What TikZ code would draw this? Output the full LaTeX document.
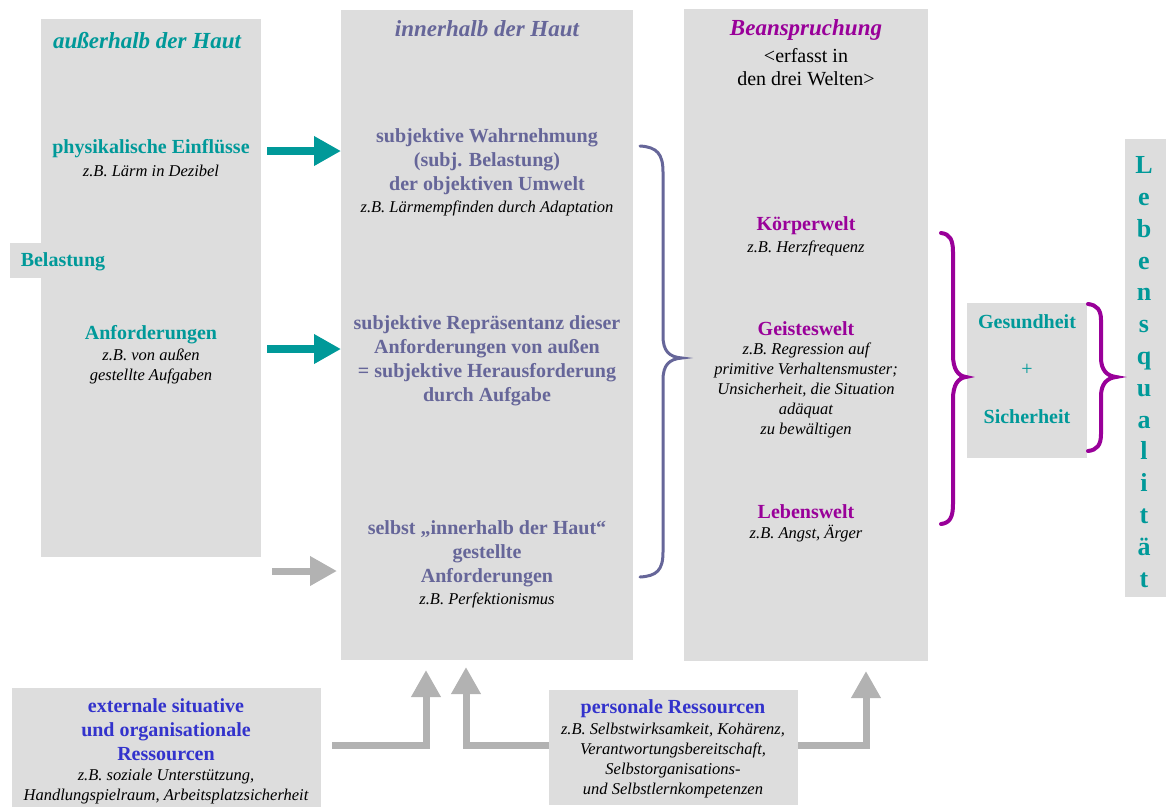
\documentclass[tikz,border=0pt]{standalone}
\usepackage{fontspec}
\setmainfont{Liberation Serif}
\usetikzlibrary{arrows.meta}
\definecolor{boxgray}{HTML}{DDDDDD}
\definecolor{tealc}{HTML}{009999}
\definecolor{slate}{HTML}{666699}
\definecolor{magc}{HTML}{990099}
\definecolor{bluec}{HTML}{3333CC}
\definecolor{arrgray}{HTML}{B2B2B2}
\begin{document}
\begin{tikzpicture}[x=1pt,y=-1pt,
  panel/.style={fill=boxgray,draw=none,inner sep=0pt,outer sep=0pt},
  txt/.style={align=center,inner sep=0pt},
  hd/.style={txt,font=\fontsize{23}{26}\selectfont\bfseries\itshape},
  bt/.style={txt,font=\fontsize{20}{24}\selectfont\bfseries},
  it/.style={txt,font=\fontsize{16.5}{20.5}\selectfont\itshape},
  itt/.style={txt,font=\fontsize{16.5}{20}\selectfont\itshape},
  rt/.style={txt,font=\fontsize{20}{23}\selectfont},
  tealarrow/.style={draw=tealc,line width=8pt,-{Triangle[length=27pt,width=28pt,fill=tealc]}},
  grayarrow/.style={draw=arrgray,line width=7pt,-{Triangle[length=27pt,width=28pt,fill=arrgray]}},
  slatebrace/.style={draw=slate,line width=3pt,line cap=round},
  magbrace/.style={draw=magc,line width=4pt,line cap=round}]
\useasboundingbox (0,0) rectangle (1167,807);

% panels
\node[panel,minimum width=220pt,minimum height=538pt] (outside) at (151,288) {};
\node[panel,minimum width=31pt,minimum height=35pt] (belbox) at (25.5,260.5) {};
\node[panel,minimum width=292pt,minimum height=650pt] (inside) at (487,335) {};
\node[panel,minimum width=244pt,minimum height=652pt] (strain) at (806,335) {};
\node[panel,minimum width=120pt,minimum height=155pt] (health) at (1027,380.5) {};
\node[panel,minimum width=41pt,minimum height=458pt] (lq) at (1145.5,368) {};
\node[panel,minimum width=309pt,minimum height=119pt] (extern) at (166.5,747.5) {};
\node[panel,minimum width=249pt,minimum height=115pt] (personal) at (673.5,747.5) {};

% left column texts
\node[hd,text=tealc] (hdout) at (147,41) {außerhalb der Haut};
\node[bt,text=tealc] (phys) at (151,149) {physikalische Einflüsse};
\node[it] (physex) at (151,171) {z.B. Lärm in Dezibel};
\node[bt,text=tealc] (belastung) at (63,262) {Belastung};
\node[bt,text=tealc] (anf) at (151,335) {Anforderungen};
\node[it] (anfex) at (151,366.5) {z.B. von außen\\gestellte Aufgaben};

% middle column texts
\node[hd,text=slate] (hdin) at (487,29) {innerhalb der Haut};
\node[bt,text=slate] (wahr) at (487,162) {subjektive Wahrnehmung\\(subj. Belastung)\\der objektiven Umwelt};
\node[it] (wahrex) at (487,208) {z.B. Lärmempfinden durch Adaptation};
\node[bt,text=slate] (repr) at (487,361) {subjektive Repräsentanz dieser\\Anforderungen von außen\\= subjektive Herausforderung\\durch Aufgabe};
\node[bt,text=slate] (selbst) at (487,554) {selbst „innerhalb der Haut“\\gestellte\\Anforderungen};
\node[it] (selbstex) at (487,600) {z.B. Perfektionismus};

% right column texts
\node[hd,text=magc] (hdbean) at (806,30) {Beanspruchung};
\node[rt] (erfasst) at (806,67.5) {<erfasst in\\den drei Welten>};
\node[bt,text=magc] (koerper) at (806,226) {Körperwelt};
\node[it] (koerperex) at (806,248) {z.B. Herzfrequenz};
\node[bt,text=magc] (geist) at (806,329) {Geisteswelt};
\node[itt] (geistex) at (806,390.5) {z.B. Regression auf\\primitive Verhaltensmuster;\\Unsicherheit, die Situation\\adäquat\\zu bewältigen};
\node[bt,text=magc] (leben) at (806,512) {Lebenswelt};
\node[it] (lebenex) at (806,534) {z.B. Angst, Ärger};

% health box
\node[bt,text=tealc] (gesund) at (1027,322) {Gesundheit};
\node[txt,font=\fontsize{20}{20}\selectfont,text=tealc] (plus) at (1027,370) {+};
\node[bt,text=tealc] (sicher) at (1027,417) {Sicherheit};

% Lebensqualitaet
\node[txt,font=\fontsize{26}{31.8}\selectfont\bfseries,text=tealc] (lqtext) at (1144,372)
  {L\\e\\b\\e\\n\\s\\q\\u\\a\\l\\i\\t\\ä\\t};

% bottom boxes
\node[bt,text=bluec] (exttitle) at (166,730) {externale situative\\und organisationale\\Ressourcen};
\node[itt] (extex) at (166,787) {z.B. soziale Unterstützung,\\Handlungspielraum, Arbeitsplatzsicherheit};
\node[bt,text=bluec] (pertitle) at (673,709) {personale Ressourcen};
\node[itt] (perex) at (673,761) {z.B. Selbstwirksamkeit, Kohärenz,\\Verantwortungsbereitschaft,\\Selbstorganisations-\\und Selbstlernkompetenzen};

% horizontal arrows
\coordinate (a1) at (267,151);
\coordinate (a2) at (267,349);
\coordinate (a3) at (272,571);
\draw[tealarrow] (a1) -- (inside.west |- a1);
\draw[tealarrow] (a2) -- (inside.west |- a2);
\draw[grayarrow] (a3) -- ([xshift=-4pt]inside.west |- a3);

% bottom arrows
\coordinate (b1) at (332,745);
\coordinate (t1) at (426,670);
\coordinate (t2) at (466,667);
\coordinate (t3) at (866,671);
\draw[grayarrow] (b1) -| (t1);
\draw[grayarrow] (personal.west |- b1) -| (t2);
\draw[grayarrow] (personal.east |- b1) -| (t3);

% braces
\draw[slatebrace] (640,146) .. controls (657,147) and (663,154) .. (663,172) -- (663,336)
  .. controls (663,351) and (669,357) .. (682,358)
  .. controls (669,359) and (663,365) .. (663,380) -- (663,552)
  .. controls (663,570) and (657,576) .. (640,577);
\draw[magbrace] (941,233) .. controls (950,234) and (953,240) .. (953,252) -- (953,355)
  .. controls (953,369) and (958,376) .. (966,377)
  .. controls (958,378) and (953,385) .. (953,399) -- (953,504)
  .. controls (953,517) and (950,523) .. (941,524);
\draw[magbrace] (1088,304) .. controls (1097,305) and (1101,310) .. (1101,320) -- (1101,358)
  .. controls (1101,370) and (1107,376) .. (1116,377)
  .. controls (1107,378) and (1101,384) .. (1101,396) -- (1101,434)
  .. controls (1101,445) and (1097,450) .. (1088,451);
\end{tikzpicture}
\end{document}
